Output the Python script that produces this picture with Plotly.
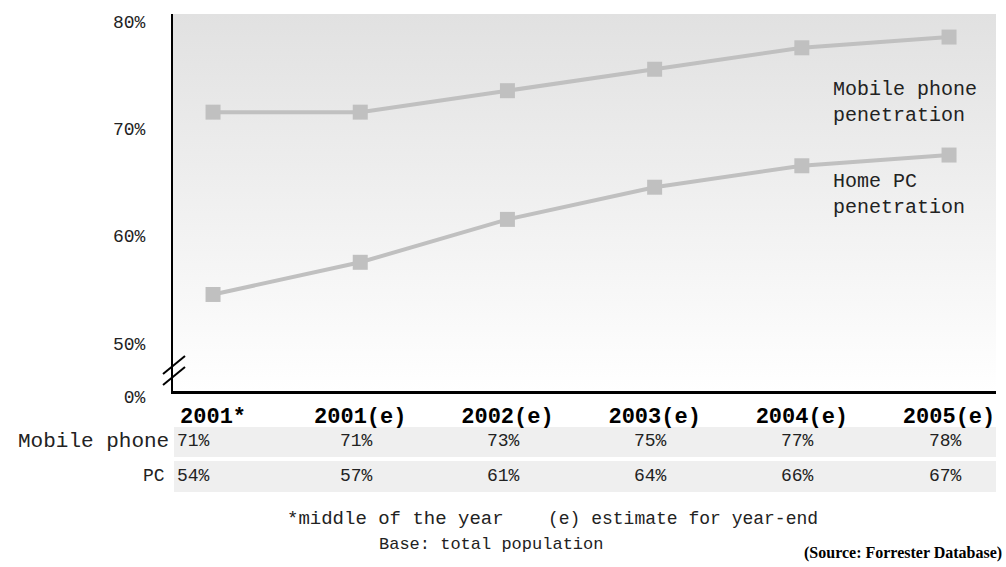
import plotly.graph_objects as go

categories = ["2001*", "2001(e)", "2002(e)", "2003(e)", "2004(e)", "2005(e)"]
mobile = [71, 71, 73, 75, 77, 78]
pc = [54, 57, 61, 64, 66, 67]
mobile_labels = ["71%", "71%", "73%", "75%", "77%", "78%"]
pc_labels = ["54%", "57%", "61%", "64%", "66%", "67%"]
ytick_vals = [45, 50, 60, 70, 80]
ytick_text = ["0%", "50%", "60%", "70%", "80%"]

W, H = 1006, 567
ML, MR, MT, MB = 173, 10, 14, 176
YMIN, YMAX = 45, 80.15
XMIN, XMAX = -0.272, 5.319

def py(Y):
    return (H - MB - Y) / (H - MT - MB)

def px(X):
    return (X - ML) / (W - ML - MR)

MONO = "Liberation Mono"
GREY = "#c0c0c0"

fig = go.Figure()

# gradient background of plot area
fig.add_trace(go.Scatter(
    x=[XMIN, XMAX, XMAX, XMIN, XMIN], y=[YMIN, YMIN, YMAX, YMAX, YMIN],
    mode="lines", line=dict(width=0), fill="toself",
    fillgradient=dict(type="vertical", colorscale=[[0, "#ffffff"], [1, "#e1e1e1"]]),
    hoverinfo="skip", showlegend=False))

xs = list(range(len(categories)))
for vals in (mobile, pc):
    fig.add_trace(go.Scatter(
        x=xs, y=vals, mode="lines+markers",
        line=dict(color=GREY, width=4),
        marker=dict(symbol="square", size=15, color=GREY),
        showlegend=False, cliponaxis=False))

shapes = []
# table row backgrounds
for y0, y1 in [(427, 457), (461, 492)]:
    shapes.append(dict(type="rect", xref="paper", yref="paper",
                       x0=px(174), x1=px(996), y0=py(y1), y1=py(y0),
                       fillcolor="#efefef", line=dict(width=0), layer="below"))
# axis break marks
for (x0, y0, x1, y1) in [(163, 374, 185, 356), (163, 385, 185, 367)]:
    shapes.append(dict(type="line", xref="paper", yref="paper",
                       x0=px(x0), y0=py(y0), x1=px(x1), y1=py(y1),
                       line=dict(color="black", width=2)))

annotations = []
# series labels
annotations.append(dict(text="Mobile phone<br>penetration", xref="paper", yref="paper",
                        x=px(831), y=py(102), xanchor="left", yanchor="middle", align="left",
                        showarrow=False, font=dict(family=MONO, size=20, color="#222")))
annotations.append(dict(text="Home PC<br>penetration", xref="paper", yref="paper",
                        x=px(831), y=py(194), xanchor="left", yanchor="middle", align="left",
                        showarrow=False, font=dict(family=MONO, size=20, color="#222")))
# table
annotations.append(dict(text="Mobile phone", xref="paper", yref="paper", x=px(171), y=py(441),
                        xanchor="right", yanchor="middle", showarrow=False,
                        font=dict(family=MONO, size=21, color="#222")))
annotations.append(dict(text="PC", xref="paper", yref="paper", x=px(167), y=py(476),
                        xanchor="right", yanchor="middle", showarrow=False,
                        font=dict(family=MONO, size=18, color="#222")))
for i, (m, p) in enumerate(zip(mobile_labels, pc_labels)):
    shift = -20 if i == 0 else -4
    for txt, Y in ((m, 441), (p, 476)):
        annotations.append(dict(text=txt, xref="x", yref="paper", x=xs[i], y=py(Y),
                                xshift=shift, xanchor="center", yanchor="middle", showarrow=False,
                                font=dict(family=MONO, size=18, color="#222")))
# footnotes
annotations.append(dict(text="*middle of the year", xref="paper", yref="paper", x=px(395), y=py(519),
                        xanchor="center", yanchor="middle", showarrow=False,
                        font=dict(family=MONO, size=19, color="#222")))
annotations.append(dict(text="(e) estimate for year-end", xref="paper", yref="paper", x=px(683), y=py(519),
                        xanchor="center", yanchor="middle", showarrow=False,
                        font=dict(family=MONO, size=18, color="#222")))
annotations.append(dict(text="Base: total population", xref="paper", yref="paper", x=px(491), y=py(544),
                        xanchor="center", yanchor="middle", showarrow=False,
                        font=dict(family=MONO, size=17, color="#222")))
annotations.append(dict(text="<b>(Source: Forrester Database)</b>", xref="paper", yref="paper",
                        x=px(1004), y=py(553), xanchor="right", yanchor="middle", showarrow=False,
                        font=dict(family="Liberation Serif", size=16, color="black")))

fig.update_layout(
    width=W, height=H,
    margin=dict(l=ML, r=MR, t=MT, b=MB, autoexpand=False),
    paper_bgcolor="white", plot_bgcolor="white",
    shapes=shapes, annotations=annotations,
    xaxis=dict(range=[XMIN, XMAX], tickmode="array", tickvals=xs,
               ticktext=["<b>%s</b>" % c for c in categories],
               showgrid=False, zeroline=False, showline=True, linecolor="black", linewidth=3,
               ticks="", ticklabelstandoff=3, automargin=False,
               tickfont=dict(family=MONO, size=22, color="black")),
    yaxis=dict(range=[YMIN, YMAX], tickmode="array", tickvals=ytick_vals, ticktext=ytick_text,
               showgrid=False, zeroline=False, showline=True, linecolor="black", linewidth=2,
               ticks="", ticklabelstandoff=22, ticklabelshift=6, automargin=False,
               tickfont=dict(family=MONO, size=18, color="#222")),
)

fig.write_html("out.html")
